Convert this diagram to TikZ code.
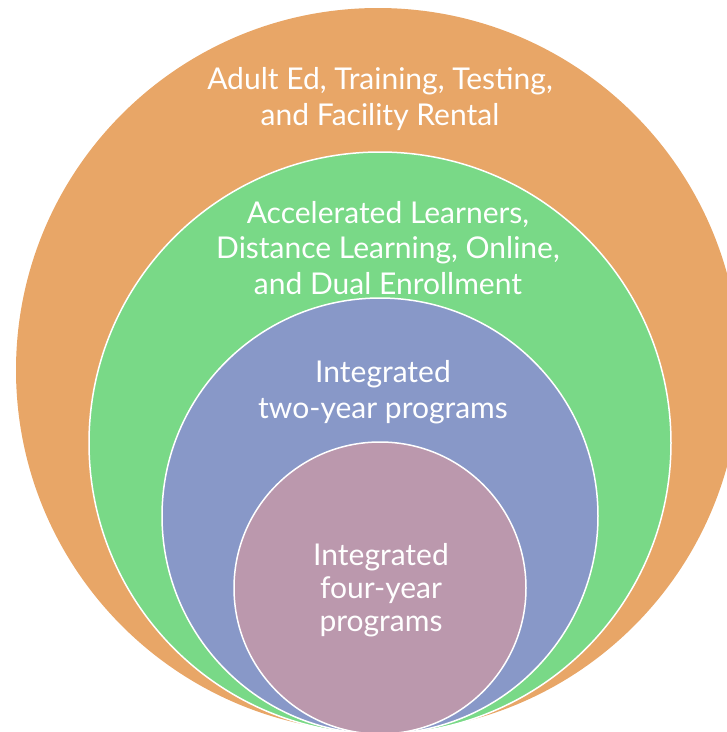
\documentclass[tikz,border=0pt]{standalone}
\usepackage{fontspec}
\setmainfont{Lato}
\definecolor{ringorange}{HTML}{E8A667}
\definecolor{ringgreen}{HTML}{79D987}
\definecolor{ringblue}{HTML}{8898C8}
\definecolor{ringpink}{HTML}{BB98AD}
\tikzset{
	ring/.style={draw=white, line width=1.5pt},
	lbl/.style={text=white, align=center, inner sep=0pt, font=\fontsize{30}{35.5}\selectfont}
}
\begin{document}
\begin{tikzpicture}[x=1pt, y=-1pt, line join=round, line cap=round]
		\useasboundingbox (0,0) rectangle (727,732);
		\clip (0,0) rectangle (727,732);
		% nested circles, all touching at the bottom
		\fill[ringorange] (378,370) circle (362pt);
		\foreach \cy/\r/\col in {443/291/ringgreen, 516/218/ringblue, 588/146/ringpink}
		\draw[ring, fill=\col] (380,\cy) circle (\r pt);
		% labels
		\node[lbl] (adult) at (380,99) {Adult Ed, Training, Testing,\\and Facility Rental};
		\node[lbl] (accel) at (388,248) {Accelerated Learners,\\Distance Learning, Online,\\and Dual Enrollment};
		\node[lbl] (twoyr) at (383,392) {Integrated\\two-year programs};
		\node[lbl, font=\fontsize{30}{33}\selectfont] (fouryr) at (381,590) {Integrated\\four-year\\programs};
\end{tikzpicture}
\end{document}
